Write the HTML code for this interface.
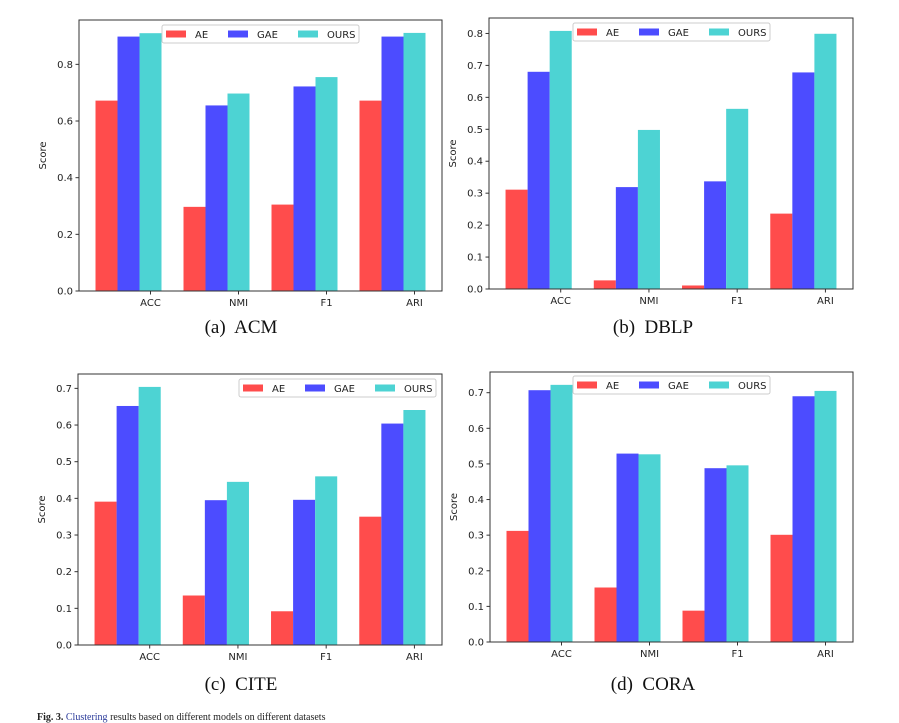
<!DOCTYPE html>
<html><head><meta charset="utf-8"><style>
body{margin:0;background:#fff;width:899px;height:715px;overflow:hidden;position:relative}
svg{position:absolute;left:0;top:0}
.cap{position:absolute;font-family:"Liberation Serif",serif;font-size:19px;color:#111;transform:translateX(-50%);white-space:nowrap}
.foot{position:absolute;left:37px;top:712px;font-family:"Liberation Serif",serif;font-size:10px;color:#222;white-space:nowrap}
</style></head><body>
<svg id="svg" width="899" height="715"></svg>
<div class="cap" style="left:241px;top:317px">(a)&nbsp; ACM</div>
<div class="cap" style="left:653px;top:317px">(b)&nbsp; DBLP</div>
<div class="cap" style="left:241px;top:674px">(c)&nbsp; CITE</div>
<div class="cap" style="left:653px;top:674px">(d)&nbsp; CORA</div>
<div class="foot"><b>Fig. 3.</b> <span style="color:#2a3a9a">Clustering</span> results based on different models on different datasets</div>
<script>
const categories=["ACC","NMI","F1","ARI"];
const seriesNames=["AE","GAE","OURS"];
const acmAE=[0.672,0.297,0.305,0.672];
const acmGAE=[0.898,0.655,0.722,0.898];
const acmOURS=[0.910,0.697,0.755,0.911];
const dblpAE=[0.311,0.027,0.011,0.236];
const dblpGAE=[0.680,0.319,0.337,0.678];
const dblpOURS=[0.808,0.498,0.564,0.799];
const citeAE=[0.391,0.135,0.092,0.350];
const citeGAE=[0.652,0.395,0.396,0.604];
const citeOURS=[0.704,0.445,0.460,0.641];
const coraAE=[0.312,0.153,0.088,0.301];
const coraGAE=[0.707,0.529,0.488,0.690];
const coraOURS=[0.722,0.527,0.496,0.705];
const ticksA=[0,0.2,0.4,0.6,0.8];
const ticksB=[0,0.1,0.2,0.3,0.4,0.5,0.6,0.7,0.8];
const ticksC=[0,0.1,0.2,0.3,0.4,0.5,0.6,0.7];
const ticksD=[0,0.1,0.2,0.3,0.4,0.5,0.6,0.7];
const colors=["#ff4c4c","#4c4cff","#4dd3d3"];
const svg=document.getElementById('svg');
const NS="http://www.w3.org/2000/svg";
function mk(tag,attrs,parent){const e=document.createElementNS(NS,tag);for(const k in attrs)e.setAttribute(k,attrs[k]);(parent||svg).appendChild(e);return e;}
function chart(name,L,T,R,B,series,ticks,dec,leg){
  const g=mk('g',{});
  
  
  let mx=0;series.forEach(s=>s.forEach(v=>{if(v>mx)mx=v;}));
  const ymax=mx*1.05;
  const x0=-0.3125,x1=3.8125;
  const X=v=>L+(v-x0)/(x1-x0)*(R-L);
  const Y=v=>B-v/ymax*(B-T);
  const w=0.25;
  series.forEach((s,si)=>{s.forEach((v,i)=>{
    const cx=i+si*w;
    const r=mk('rect',{x:X(cx-w/2),y:Y(v),width:X(cx+w/2)-X(cx-w/2),height:B-Y(v),fill:colors[si]},g);
    
    
  });});
  const fr=mk('rect',{x:L,y:T,width:R-L,height:B-T,fill:'none',stroke:'#333','stroke-width':1},g);
  
  
  ticks.forEach(t=>{
    const y=Y(t);
    mk('line',{x1:L-3.5,x2:L,y1:y,y2:y,stroke:'#333'},g);
    const tx=mk('text',{x:L-6,y:y+3.5,'text-anchor':'end','font-size':10,'font-family':'DejaVu Sans, sans-serif',fill:'#222'},g);
    tx.textContent=t.toFixed(1);
    
    
  });
  categories.forEach((c,i)=>{
    const x=X(i+0.5);
    mk('line',{x1:x,x2:x,y1:B,y2:B+3.5,stroke:'#333'},g);
    const tx=mk('text',{x:x,y:B+15,'text-anchor':'middle','font-size':10,'font-family':'DejaVu Sans, sans-serif',fill:'#222'},g);
    tx.textContent=c;
    
    
  });
  const yl=mk('text',{x:0,y:0,transform:`translate(${L-33},${(T+B)/2}) rotate(-90)`,'text-anchor':'middle','font-size':10,'font-family':'DejaVu Sans, sans-serif',fill:'#222'},g);
  yl.textContent='Score';
  
  
  const lg=mk('g',{},g);
  
  
  mk('rect',{x:leg[0],y:leg[1],width:197,height:18,rx:2,fill:'#fff','fill-opacity':0.85,stroke:'#ccc'},lg);
  const offs=[4,66,136];
  seriesNames.forEach((n,si)=>{
    const e=mk('g',{},lg);
    
    
    mk('rect',{x:leg[0]+offs[si],y:leg[1]+5.5,width:20,height:7,fill:colors[si]},e);
    const t=mk('text',{x:leg[0]+offs[si]+29,y:leg[1]+13,'font-size':10,'font-family':'DejaVu Sans, sans-serif',fill:'#222'},e);
    t.textContent=n;
  });
}
chart('acm',79,20,442,291,[acmAE,acmGAE,acmOURS],ticksA,1,[162,25]);
chart('dblp',489,18,853,289,[dblpAE,dblpGAE,dblpOURS],ticksB,1,[573,23]);
chart('cite',78,374,442,645,[citeAE,citeGAE,citeOURS],ticksC,1,[239,379]);
chart('cora',490,372,853,642,[coraAE,coraGAE,coraOURS],ticksD,1,[573,376]);
</script>
</body></html>
